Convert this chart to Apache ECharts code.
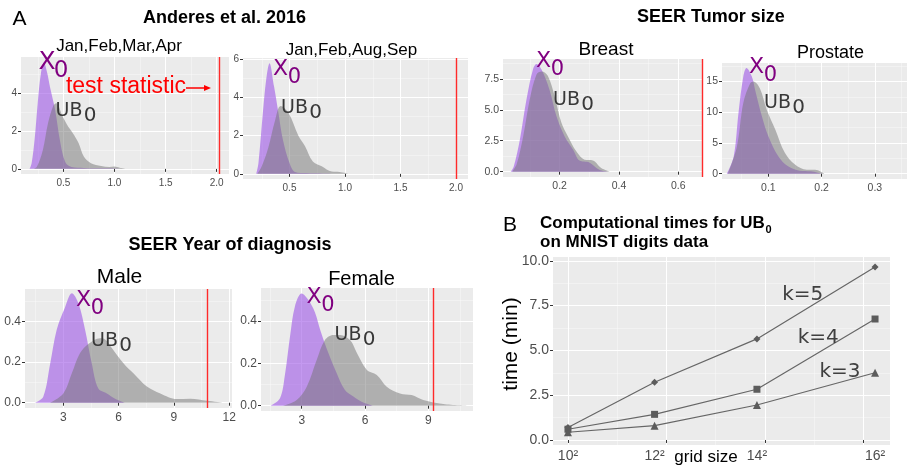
<!DOCTYPE html>
<html>
<head>
<meta charset="utf-8">
<script src="https://cdn.jsdelivr.net/npm/echarts@6/dist/echarts.min.js"></script>
<style>
html, body { margin: 0; padding: 0; background: #fff; }
#main { width: 907px; height: 466px; }
</style>
</head>
<body>
<div id="main"></div>
<script>
// density curves, [value, density]
// Anderes et al. 2016
var janAprX0 = [[0.17,0],[0.19,0.3],[0.22,1.6],[0.25,3.5],[0.28,5.0],[0.31,5.6],[0.34,5.1],[0.37,4.3],[0.42,3.1],[0.47,1.4],[0.52,0.35],[0.58,0.1],[0.7,0.05],[0.85,0.03],[1.0,0.02],[1.1,0]];
var janAprUB = [[0.2,0],[0.24,0.1],[0.3,1.0],[0.35,2.4],[0.4,3.3],[0.43,3.45],[0.49,2.8],[0.55,2.2],[0.59,1.9],[0.65,1.35],[0.7,0.65],[0.77,0.3],[0.87,0.15],[0.95,0.1],[1.0,0.12],[1.05,0.06],[1.12,0]];
var janSepX0 = [[0.2,0],[0.22,0.56],[0.26,3.2],[0.29,4.95],[0.32,5.8],[0.36,4.6],[0.4,3.2],[0.44,1.8],[0.5,0.57],[0.55,0.1],[0.65,0.04],[0.8,0.02],[1.05,0]];
var janSepUB = [[0.21,0],[0.25,0.4],[0.31,1.4],[0.37,2.8],[0.42,3.55],[0.49,3.2],[0.58,2.0],[0.64,1.45],[0.71,0.65],[0.79,0.4],[0.88,0.12],[0.95,0.1],[1.04,0]];
// SEER tumor size
var breastX0 = [[0.035,0],[0.045,0.4],[0.066,2.6],[0.088,5.8],[0.11,8.25],[0.122,8.7],[0.139,8.25],[0.166,6.6],[0.189,4.5],[0.217,2.85],[0.245,1.8],[0.267,0.9],[0.3,0.75],[0.334,0.15],[0.36,0]];
var breastUB = [[0.04,0],[0.055,0.6],[0.077,2.85],[0.099,5.8],[0.122,7.85],[0.139,8.1],[0.16,7.75],[0.183,6.1],[0.206,3.95],[0.228,2.85],[0.256,1.65],[0.284,0.97],[0.312,0.9],[0.34,0.3],[0.37,0]];
var prostateX0 = [[0.022,0],[0.035,2.8],[0.044,9.9],[0.053,15.8],[0.059,17.2],[0.069,15.8],[0.075,13.7],[0.088,9.3],[0.1,6.1],[0.119,2.8],[0.137,1.2],[0.159,0.5],[0.18,0.4],[0.2,0]];
var prostateUB = [[0.024,0],[0.041,4.4],[0.053,11.5],[0.066,14.7],[0.072,15.0],[0.084,13.9],[0.097,10.4],[0.113,7.2],[0.131,3.4],[0.15,1.5],[0.172,0.65],[0.188,0.65],[0.205,0]];
// SEER year of diagnosis
var maleX0 = [[1.46,0],[1.91,0.03],[2.28,0.19],[2.64,0.36],[3.09,0.47],[3.46,0.54],[3.82,0.49],[4.18,0.36],[4.54,0.195],[4.9,0.07],[5.36,0.046],[5.81,0.02],[6.35,0]];
var maleUB = [[2.28,0],[3.0,0.046],[3.46,0.145],[3.9,0.244],[4.36,0.29],[5.0,0.318],[5.3,0.31],[5.63,0.27],[6.26,0.195],[6.8,0.145],[7.53,0.08],[8.26,0.046],[9.16,0.018],[9.88,0.02],[10.8,0.01],[11.66,0]];
var femaleX0 = [[1.53,0],[1.97,0.035],[2.21,0.15],[2.45,0.33],[2.68,0.47],[3.0,0.53],[3.31,0.5],[3.63,0.44],[3.87,0.36],[4.26,0.25],[4.66,0.153],[5.05,0.074],[5.45,0.043],[5.84,0.019],[6.39,0]];
var femaleUB = [[2.13,0],[2.76,0.027],[3.24,0.09],[3.71,0.216],[4.1,0.31],[4.5,0.334],[4.82,0.334],[5.29,0.31],[5.61,0.25],[6.08,0.17],[6.56,0.145],[7.03,0.09],[7.66,0.058],[8.21,0.05],[8.76,0.027],[9.71,0.008],[10.9,0]];
// test statistics (red lines)
var testStat = { janApr: 2.02, janSep: 2.0, breast: 0.675, male: 10.8, female: 9.24 };

// B: computational times
var gridSizes = [100, 144, 196, 256];
var gridLabels = ['10²', '12²', '14²', '16²'];
var timeK5 = [0.7, 3.22, 5.64, 9.65];
var timeK4 = [0.6, 1.43, 2.83, 6.75];
var timeK3 = [0.43, 0.8, 1.95, 3.75];

var PURPLE = 'rgba(157,85,230,0.6)';
var GREY = 'rgba(115,115,115,0.5)';
var RED = '#ff2a2a';

var option = { animation: false, backgroundColor: '#fff', grid: [], xAxis: [], yAxis: [], series: [], graphic: [] };

function fix1(v) { return v.toFixed(1); }
function plain(v) { return String(v); }

// one ggplot-like panel: grey background, white major + minor grid lines
function addPanel(box, x, y, fs) {
    var gi = option.grid.length;
    option.grid.push({
        left: box[0], top: box[1], width: box[2], height: box[3],
        show: true, backgroundColor: '#ebebeb', borderWidth: 0,
        containLabel: false, outerBoundsMode: 'none'
    });
    [['x', x], ['y', y]].forEach(function (d) {
        var list = d[0] === 'x' ? option.xAxis : option.yAxis;
        var r = d[1];
        list.push({
            type: 'value', gridIndex: gi, min: r.min, max: r.max,
            position: d[0] === 'x' ? 'bottom' : 'left',
            axisLine: { show: false },
            axisTick: { show: true, length: 3, lineStyle: { color: '#333' }, customValues: r.major },
            axisLabel: { customValues: r.labels || r.major, formatter: r.fmt, fontSize: fs, color: '#4d4d4d', margin: 4, fontFamily: 'Liberation Sans' },
            splitLine: { show: true, lineStyle: { color: '#ffffff', width: 1 } }
        });
        list.push({
            type: 'value', gridIndex: gi, min: r.min, max: r.max,
            position: d[0] === 'x' ? 'top' : 'right',
            axisLine: { show: false },
            axisTick: { show: false, customValues: r.minor },
            axisLabel: { show: false },
            splitLine: { show: true, lineStyle: { color: 'rgba(255,255,255,0.6)', width: 0.6 } }
        });
    });
    return 2 * gi;
}

function density(ai, pts, color) {
    option.series.push({
        type: 'line', xAxisIndex: ai, yAxisIndex: ai, data: pts,
        smooth: 0.35, symbol: 'none', silent: true,
        lineStyle: { opacity: 0 },
        areaStyle: { color: color, opacity: 1 }
    });
}

// red test-statistic line, drawn on top of both densities
function statLine(ai, stat) {
    option.series.push({
        type: 'line', xAxisIndex: ai, yAxisIndex: ai, data: [], silent: true, z: 5,
        markLine: {
            silent: true, symbol: 'none', label: { show: false },
            lineStyle: { color: RED, width: 1.4, type: 'solid', opacity: 1 },
            emphasis: { disabled: true },
            data: [{ xAxis: stat }]
        }
    });
}

function text(x, y, str, size, o) {
    o = o || {};
    option.graphic.push({
        type: 'text', x: x, y: y, rotation: o.rot || 0, silent: true, z: 100,
        style: {
            text: str, fill: o.color || '#000',
            fontSize: size, fontWeight: o.bold ? 'bold' : 'normal',
            fontFamily: o.family || 'Liberation Sans',
            align: o.align || 'center', verticalAlign: 'middle'
        }
    });
}

function x0Label(x, y, big) {
    text(x, y, 'X', big ? 25 : 22, { color: '#800080', family: 'DejaVu Sans' });
    text(x + 14, y + 8.5, '0', big ? 23 : 21, { color: '#800080', family: 'DejaVu Sans' });
}
function ubLabel(x, y) {
    text(x, y, 'UB', 19, { color: '#383838', family: 'DejaVu Sans' });
    text(x + 21, y + 4.5, '0', 20, { color: '#383838', family: 'DejaVu Sans' });
}

// ---- A: Anderes et al. 2016 ----
var a1 = addPanel([21, 57, 208, 117],
    { min: 0.086, max: 2.12, major: [0.5, 1, 1.5, 2], minor: [0.25, 0.75, 1.25, 1.75], fmt: fix1 },
    { min: -0.27, max: 5.89, major: [0, 2, 4], minor: [1, 3, 5], fmt: plain }, 10);
density(a1, janAprX0, PURPLE);
density(a1, janAprUB, GREY);
statLine(a1, testStat.janApr);

var a2 = addPanel([243, 58, 225, 121],
    { min: 0.081, max: 2.108, major: [0.5, 1, 1.5, 2], minor: [0.25, 0.75, 1.25, 1.75], fmt: fix1 },
    { min: -0.27, max: 6.07, major: [0, 2, 4, 6], minor: [1, 3, 5], fmt: plain }, 10);
density(a2, janSepX0, PURPLE);
density(a2, janSepUB, GREY);
statLine(a2, testStat.janSep);

// ---- A: SEER tumor size ----
var a3 = addPanel([503, 59, 199, 118],
    { min: 0.009, max: 0.68, major: [0.2, 0.4, 0.6], minor: [0.1, 0.3, 0.5], fmt: fix1 },
    { min: -0.43, max: 9.1, major: [0, 2.5, 5, 7.5], minor: [1.25, 3.75, 6.25, 8.75], fmt: fix1 }, 10.5);
density(a3, breastX0, PURPLE);
density(a3, breastUB, GREY);
statLine(a3, testStat.breast);

var a4 = addPanel([722, 63, 188, 116],
    { min: 0.013, max: 0.366, major: [0.1, 0.2, 0.3], minor: [0.05, 0.15, 0.25, 0.35], fmt: fix1 },
    { min: -0.86, max: 18.0, major: [0, 5, 10, 15], minor: [2.5, 7.5, 12.5, 17.5], fmt: plain }, 10.5);
density(a4, prostateX0, PURPLE);
density(a4, prostateUB, GREY);

// ---- A: SEER year of diagnosis ----
var a5 = addPanel([25, 289, 207, 119],
    { min: 0.92, max: 12.15, major: [3, 6, 9, 12], minor: [1.5, 4.5, 7.5, 10.5], fmt: plain },
    { min: -0.026, max: 0.561, major: [0, 0.2, 0.4], minor: [0.1, 0.3, 0.5], fmt: fix1 }, 12);
density(a5, maleX0, PURPLE);
density(a5, maleUB, GREY);
statLine(a5, testStat.male);

var a6 = addPanel([261, 288, 212, 123],
    { min: 1.07, max: 11.12, major: [3, 6, 9], minor: [1.5, 4.5, 7.5, 10.5], fmt: plain },
    { min: -0.025, max: 0.556, major: [0, 0.2, 0.4], minor: [0.1, 0.3, 0.5], fmt: fix1 }, 12);
density(a6, femaleX0, PURPLE);
density(a6, femaleUB, GREY);
statLine(a6, testStat.female);

// ---- B: computational times ----
var b = addPanel([553, 257, 337, 188],
    { min: 92.4, max: 263.6, major: [100, 150, 200, 250], minor: [125, 175, 225], labels: gridSizes,
      fmt: function (v) { return gridLabels[gridSizes.indexOf(v)] || ''; } },
    { min: -0.28, max: 10.21, major: [0, 2.5, 5, 7.5, 10], minor: [1.25, 3.75, 6.25, 8.75], fmt: fix1 }, 14);
[[timeK5, 'diamond', 7], [timeK4, 'rect', 7], [timeK3, 'triangle', 8]].forEach(function (k) {
    option.series.push({
        type: 'line', xAxisIndex: b, yAxisIndex: b, silent: true,
        data: gridSizes.map(function (g, i) { return [g, k[0][i]]; }),
        symbol: k[1], symbolSize: k[2], showSymbol: true,
        lineStyle: { color: '#666666', width: 1.2 },
        itemStyle: { color: '#5c5c5c' }
    });
});

// ---- text ----
text(19.5, 19.5, 'A', 21);
text(143, 18.5, 'Anderes et al. 2016', 18, { bold: true, align: 'left' });
text(637, 17, 'SEER Tumor size', 18, { bold: true, align: 'left' });
text(128.5, 245, 'SEER Year of diagnosis', 18, { bold: true, align: 'left' });

text(119, 46.5, 'Jan,Feb,Mar,Apr', 17);
text(351.5, 50, 'Jan,Feb,Aug,Sep', 17);
text(606, 50, 'Breast', 19);
text(830.5, 53, 'Prostate', 18);
text(119.5, 277.5, 'Male', 21);
text(361.5, 279, 'Female', 20);

x0Label(47, 62.5, true);
x0Label(280.5, 69.5);
x0Label(543.5, 61.5);
x0Label(756.5, 67);
x0Label(83.5, 300.5);
x0Label(314, 297);

ubLabel(69, 111.5);
ubLabel(294.5, 108.5);
ubLabel(566.5, 100);
ubLabel(777.5, 103);
ubLabel(104.5, 341);
ubLabel(348, 335.5);

text(126, 87, 'test statistic', 23, { color: '#ff0000' });
option.graphic.push({ type: 'line', silent: true, z: 100, shape: { x1: 186, y1: 88, x2: 206, y2: 88 }, style: { stroke: '#ff0000', lineWidth: 1.5 } });
option.graphic.push({ type: 'polygon', silent: true, z: 100, shape: { points: [[204, 85], [211, 88], [204, 91]] }, style: { fill: '#ff0000' } });

text(510, 225.5, 'B', 21);
text(540, 223.5, 'Computational times for UB', 17, { bold: true, align: 'left' });
text(768.5, 230, '0', 11, { bold: true });
text(540, 242.5, 'on MNIST digits data', 17, { bold: true, align: 'left' });
text(802.7, 294.3, 'k=5', 20, { color: '#404040', family: 'DejaVu Sans' });
text(818.3, 337.7, 'k=4', 20, { color: '#404040', family: 'DejaVu Sans' });
text(840, 372, 'k=3', 20, { color: '#404040', family: 'DejaVu Sans' });
text(511, 344, 'time (min)', 21, { rot: Math.PI / 2 });
text(706, 457, 'grid size', 17);

var myChart = echarts.init(document.getElementById('main'), null, { renderer: 'canvas' });
myChart.setOption(option);
</script>
</body>
</html>
